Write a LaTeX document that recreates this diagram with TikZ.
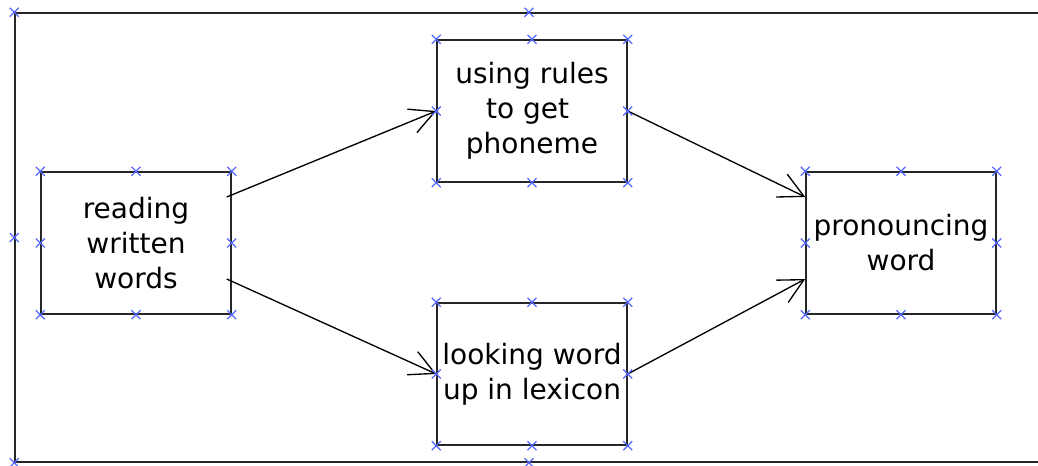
\documentclass[tikz,border=0pt]{standalone}
\usepackage{fontspec}
\setmainfont{DejaVu Sans}
\usetikzlibrary{arrows.meta}
\definecolor{markblue}{RGB}{85,105,255}
\tikzset{
  box/.style={draw=black!85, line width=1.1pt, rectangle, inner sep=0pt,
    minimum width=142.5pt, minimum height=106.5pt, align=center,
    font=\fontsize{21}{26.25}\selectfont},
  frame/.style={draw=black!85, line width=1.1pt, rectangle, inner sep=0pt,
    minimum width=771pt, minimum height=336.75pt},
  conn/.style={draw=black, line width=1pt,
    -{Straight Barb[length=18.5pt,width=19pt]}},
  xm/.style={draw=markblue, line width=1pt}
}
\begin{document}
\begin{tikzpicture}[x=0.75pt,y=-0.75pt]
\useasboundingbox (0,0) rectangle (1038,466);
\clip (0,0) rectangle (1038,466);
\node[frame] (frame) at (529,237.5) {};
\node[box] (reading) at (136,243) {reading\\written\\words};
\node[box] (using) at (532,111) {using rules\\to get\kern0.32em\\phoneme};
\node[box] (looking) at (532,374) {looking word\\up in lexicon};
\node[box] (pron) at (901,243) {pronouncing\\word};
\draw[conn] ([xshift=-3.75pt,yshift=34.5pt]reading.east) -- (using.west);
\draw[conn] ([xshift=-3.75pt,yshift=-27pt]reading.east) -- (looking.west);
\draw[conn] (using.east) -- ([yshift=34.5pt]pron.west);
\draw[conn] (looking.east) -- ([yshift=-27pt]pron.west);
\foreach \n in {frame,reading,using,looking,pron}
  \foreach \a in {north west,north,north east,east,south east,south,south west,west}
    \draw[xm] (\n.\a) +(-4.5,-4.5) -- +(4.5,4.5) +(-4.5,4.5) -- +(4.5,-4.5);
\end{tikzpicture}
\end{document}
